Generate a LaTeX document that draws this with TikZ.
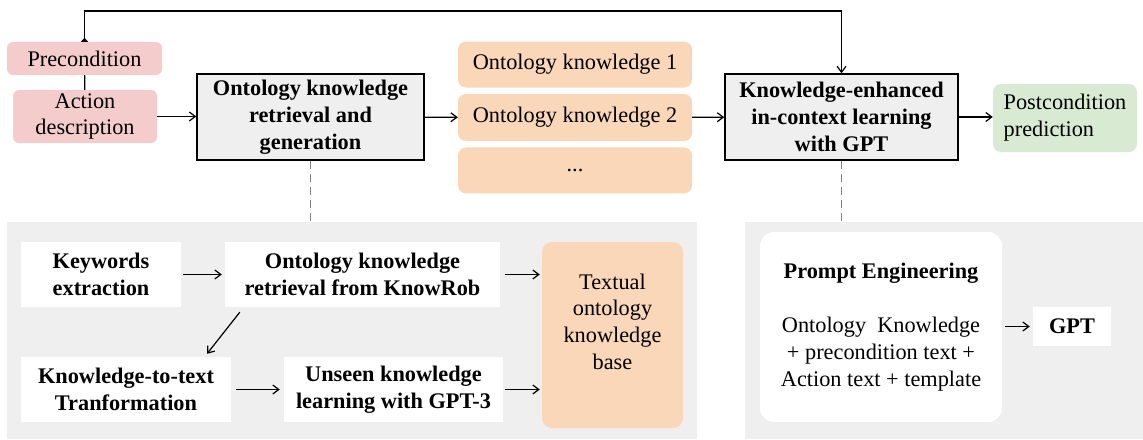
\documentclass[tikz,border=0pt]{standalone}
\usepackage{fontspec}
\setmainfont{Liberation Serif}
\usetikzlibrary{positioning,calc,arrows.meta}

\definecolor{pinkbox}{HTML}{F4CCCC}
\definecolor{orangebox}{HTML}{F9D7B8}
\definecolor{greenbox}{HTML}{D9EAD3}
\definecolor{panelgray}{HTML}{EFEFEF}

\newcommand{\diagfont}{\fontsize{22.3}{26.8}\selectfont}

\tikzset{
	every node/.style={font=\diagfont, align=center, inner sep=0pt},
	inbox/.style={fill=pinkbox, rounded corners=6pt},
	stepbox/.style={draw=black, line width=1.5pt, fill=panelgray, font=\diagfont\bfseries},
	knowbox/.style={fill=orangebox, rounded corners=8pt},
	outbox/.style={fill=greenbox, rounded corners=8pt, align=left},
	panel/.style={fill=panelgray},
	subbox/.style={fill=white, font=\diagfont\bfseries},
	promptbox/.style={fill=white, rounded corners=14pt},
	flow/.style={->, line width=1.2pt},
	link/.style={gray, line width=1pt, dash pattern=on 8pt off 5pt},
	>={Straight Barb[length=6pt, width=9pt]}
}

\begin{document}
\begin{tikzpicture}[x=1pt, y=-1pt]
	\useasboundingbox (0,0) rectangle (1143,439);

	%Panels

	\node (lpanel) [panel, minimum width=690, minimum height=217] at (352,330.5) { };
	\node (rpanel) [panel, minimum width=398, minimum height=217] at (944,330.5) { };

	%Top row

	\node (pre) [inbox, minimum width=155, minimum height=33] at (84.5,58.5) {Precondition};
	\node (act) [inbox, minimum width=144, minimum height=53] at (85,116.5) {Action\\description};

	\node (okr) [stepbox, minimum width=227, minimum height=86] at (310.5,117) {Ontology knowledge\\retrieval and\\generation};

	\node (ok2) [knowbox, minimum width=234, minimum height=47] at (575,117.5) {Ontology knowledge 2};
	\node (ok1) [knowbox, minimum width=234, minimum height=46, above=6pt of ok2] {Ontology knowledge 1};
	\node (ok3) [knowbox, minimum width=234, minimum height=46, below=6pt of ok2] {...};

	\node (kei) [stepbox, minimum width=233, minimum height=86] at (841.5,117) {Knowledge-enhanced\\in-context learning\\with GPT};

	\node (post) [outbox, minimum width=144, minimum height=68] at (1065,118) {Postcondition\\prediction};

	\coordinate (fb) at (0,11);

	\draw [line width=1.2pt] (pre) -- (act);
	\draw [line width=1.2pt, {Triangle[reversed, length=4pt, width=7pt]}->] (pre.north) |- (fb -| kei.north) -- (kei.north);
	\draw [flow] (act.east) -- (act.east -| okr.west);
	\draw [flow] (okr) -- (ok2);
	\draw [flow] (ok2) -- (kei);
	\draw [flow] (kei.east) -- (kei.east -| post.west);

	\draw [link] (okr.south) -- (okr.south |- lpanel.north);
	\draw [link] (kei.south) -- (kei.south |- rpanel.north);

	%Retrieval and generation

	\node (kw) [subbox, minimum width=160, minimum height=65] at (101,274.5) {Keywords\\extraction};
	\node (kb) [subbox, minimum width=275, minimum height=65] at (362.5,274.5) {Ontology knowledge\\retrieval from KnowRob};
	\node (tkb) [knowbox, rounded corners=10pt, minimum width=141, minimum height=186] at (612.5,335) {Textual\\ontology\\knowledge\\base\\[0pt]\mbox{}};
	\node (k2t) [subbox, minimum width=210, minimum height=65] at (126,389.5) {Knowledge-to-text\\Tranformation};
	\node (ukl) [subbox, minimum width=219, minimum height=65] at (393.5,389.5) {Unseen knowledge\\learning with GPT-3};

	\draw [flow, shorten <=2pt, shorten >=3pt] (kw) -- (kb);
	\draw [flow, shorten <=5pt, shorten >=2pt] (kb.east) -- (kb.east -| tkb.west);
	\draw [flow] ($(kb.south west)+(15,5)$) -- ($(k2t.north)+(81,-3)$);
	\draw [flow, shorten <=5pt, shorten >=4pt] (k2t) -- (ukl);
	\draw [flow, shorten <=2pt, shorten >=2pt] (ukl.east) -- (ukl.east -| tkb.west);

	%In-context learning

	\node (pe) [promptbox, minimum width=242, minimum height=190] at (881,327) {\textbf{Prompt Engineering}\\[27pt]Ontology~~Knowledge\\+ precondition text +\\Action text + template};
	\node (gpt) [subbox, minimum width=78, minimum height=39] at (1072,326.5) {GPT};

	\draw [flow, shorten <=3pt, shorten >=3pt] (pe.east |- gpt.west) -- (gpt.west);

\end{tikzpicture}
\end{document}
